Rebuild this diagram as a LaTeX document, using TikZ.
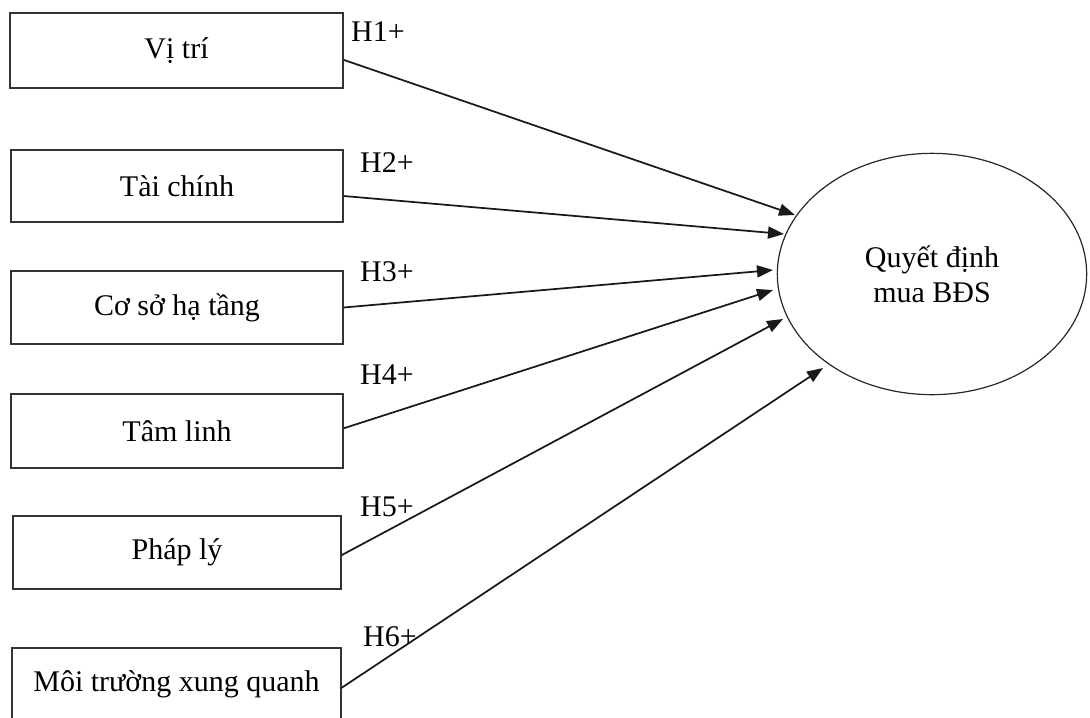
\documentclass[tikz,border=0pt]{standalone}
\usepackage{fontspec}
\setmainfont{Liberation Serif}
\usetikzlibrary{shapes.geometric,arrows.meta}
\begin{document}
\begin{tikzpicture}[x=0.75pt,y=-0.75pt,
  font=\fontsize{22.5}{26}\selectfont,
  factor/.style={draw=black!80,line width=0.9pt,rectangle,minimum height=54.75pt,inner sep=0pt,align=center},
  hyp/.style={inner sep=0pt,anchor=center},
  link/.style={draw=black!90,line width=1.3pt,-{Triangle[length=12pt,width=9pt]}}]
\useasboundingbox (0,0) rectangle (1090,718);
\node[factor,minimum width=249.75pt,minimum height=56.25pt] (b1) at (176.5,50.5) {Vị trí};
\node[factor,minimum width=249pt,minimum height=54pt] (b2) at (177,186) {Tài chính};
\node[factor,minimum width=249pt] (b3) at (177,307.5) {Cơ sở hạ tầng};
\node[factor,minimum width=249pt,minimum height=55.5pt] (b4) at (177,431) {Tâm linh};
\node[factor,minimum width=246pt] (b5) at (177,552.5) {Pháp lý};
\node[factor,minimum width=246.75pt] (b6) at (176.5,684.5) {Môi trường xung quanh};
\node[draw=black!85,line width=0.9pt,ellipse,minimum width=232pt,minimum height=181pt,inner sep=0pt,align=center] (q) at (932,274) {Quyết định\\mua BĐS};
\node[hyp] (h1) at (378,32) {H1+};
\node[hyp] (h2) at (387,163) {H2+};
\node[hyp] (h3) at (387,272) {H3+};
\node[hyp] (h4) at (387,375) {H4+};
\node[hyp] (h5) at (387,507) {H5+};
\node[hyp] (h6) at (390,637) {H6+};
\coordinate (e1) at (795,215);
\coordinate (e2) at (784,234);
\coordinate (e3) at (773,270);
\coordinate (e4) at (773,290);
\coordinate (e5) at (783,319);
\coordinate (e6) at (823,368);
\draw[link] ([yshift=-7pt]b1.east) -- (e1);
\draw[link] ([yshift=-7.5pt]b2.east) -- (e2);
\draw[link] (b3.east) -- (e3);
\draw[link] ([yshift=2pt]b4.east) -- (e4);
\draw[link] ([yshift=-2pt]b5.east) -- (e5);
\draw[link] ([yshift=-2.5pt]b6.east) -- (e6);
\end{tikzpicture}
\end{document}
